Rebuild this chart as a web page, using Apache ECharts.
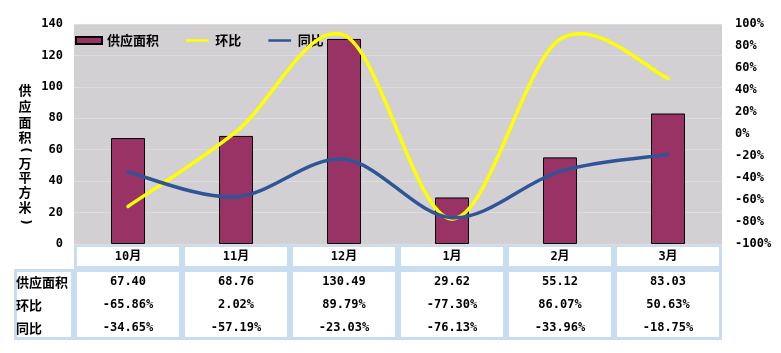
<!DOCTYPE html>
<html><head><meta charset="utf-8">
<script src="https://cdn.jsdelivr.net/npm/echarts@6/dist/echarts.min.js"></script>
<style>html,body{margin:0;padding:0;background:#fff}#c{width:781px;height:353px}</style>
</head><body><div id="c"></div>
<script>
const categories = ['10月','11月','12月','1月','2月','3月'];
const supplyArea = [67.40, 68.76, 130.49, 29.62, 55.12, 83.03];
const momChange = [-65.86, 2.02, 89.79, -77.30, 86.07, 50.63];
const yoyChange = [-34.65, -57.19, -23.03, -76.13, -33.96, -18.75];
const rowLabels = ['供应面积','环比','同比'];
const leftTicks = {min:0, max:140, interval:20};
const rightTicks = {min:-100, max:100, interval:20};
const yName = ['供','应','面','积','(','万','平','方','米',')'];

const FONT = "'DejaVu Sans Mono','Noto Sans CJK SC',monospace";
const CJK = "'Noto Sans CJK SC','DejaVu Sans',sans-serif";
const G = {left:74, right:59, top:24, bottom:109};
const W = 781, H = 353;
const plotW = W - G.left - G.right;
const colW = plotW / categories.length;
const plotBottom = H - G.bottom;
const headH = 25, bodyTop = plotBottom + 25, bodyH = 71;

const graphics = [];
const border = {stroke:'#c9ddf1', lineWidth:3};
categories.forEach((c,i)=>{
  graphics.push({type:'rect', shape:{x:G.left+i*colW+1.5, y:plotBottom+1.5, width:colW-3, height:headH-3}, style:Object.assign({fill:'#fff'}, border), z:0});
  graphics.push({type:'rect', shape:{x:G.left+i*colW+1.5, y:bodyTop+1.5, width:colW-3, height:bodyH-3}, style:Object.assign({fill:'#fff'}, border), z:0});
});
graphics.push({type:'rect', shape:{x:14+1.5, y:bodyTop+1.5, width:G.left-14-3, height:bodyH-3}, style:Object.assign({fill:'#fff'}, border), z:0});
rowLabels.forEach((t,i)=>{
  graphics.push({type:'text', x:16, y:bodyTop+13+i*23, style:{text:t, font:"bold 13px "+CJK, fill:'#000', verticalAlign:'middle'}, z:5});
});
// vertical axis title, parentheses turned to their vertical form
const nameY = [90,106,122,137,150,163,177,192,207,222];
yName.forEach((ch,i)=>{
  const paren = (ch==='(' || ch===')');
  graphics.push({type:'text', x:25, y:nameY[i], rotation: paren ? -Math.PI/2 : 0,
    style:{text:ch, font: paren ? "bold 12px 'DejaVu Sans'" : "bold 13px "+CJK, fill:'#000', align:'center', verticalAlign:'middle'}, z:5});
});

function rowAxis(vals, offset){
  return {type:'category', data:vals, position:'bottom', offset:offset, gridIndex:0,
    axisLine:{show:false}, axisTick:{show:false}, splitLine:{show:false},
    axisLabel:{margin:7, color:'#000', fontWeight:'bold', fontSize:12, fontFamily:FONT, interval:0}};
}

// Excel-like Catmull-Rom smoothing drawn through the axis scales
function smoothLine(name, vals, color){
  const n = vals.length;
  return {name:name, type:'custom', xAxisIndex:0, yAxisIndex:1, z:4, clip:false,
    data: vals.map((v,i)=>[i,v]), encode:{x:0, y:1},
    itemStyle:{color:color},
    renderItem:function(params, api){
      const i = params.dataIndex;
      if (i >= n-1) return null;
      const p = k => { const j = Math.max(0, Math.min(n-1, k)); return api.coord([j, vals[j]]); };
      const p0=p(i-1), p1=p(i), p2=p(i+1), p3=p(i+2);
      return {type:'bezierCurve', shape:{
        x1:p1[0], y1:p1[1], x2:p2[0], y2:p2[1],
        cpx1:p1[0]+(p2[0]-p0[0])/6, cpy1:p1[1]+(p2[1]-p0[1])/6,
        cpx2:p2[0]-(p3[0]-p1[0])/6, cpy2:p2[1]-(p3[1]-p1[1])/6},
        style:{stroke:color, lineWidth:3.5, fill:null, lineCap:'round'}};
    }};
}
const lineIcon = 'path://M0,0L26,0L26,0.01L0,0.01ZM0,2.5L26,2.5L26,5.5L0,5.5ZM0,8L26,8L26,8.01L0,8.01Z';

const option = {
  animation:false,
  grid:{left:G.left, right:G.right, top:G.top, bottom:G.bottom, show:true, backgroundColor:'#d2d0d2', borderWidth:0},
  legend:{left:75, top:34, padding:0, itemGap:27, itemWidth:26, itemHeight:7,
    textStyle:{color:'#000', fontWeight:'bold', fontSize:13, fontFamily:CJK},
    data:[{name:'供应面积', icon:'rect'},
          {name:'环比', icon:lineIcon, itemStyle:{color:'#ffff00', borderWidth:0}},
          {name:'同比', icon:lineIcon, itemStyle:{color:'#2f5597', borderWidth:0}}]},
  xAxis:[
    {type:'category', data:categories, axisLine:{show:false}, axisTick:{show:false},
     axisLabel:{margin:7, color:'#000', fontWeight:'bold', fontSize:12, fontFamily:FONT}},
    rowAxis(supplyArea.map(v=>v.toFixed(2)), 25),
    rowAxis(momChange.map(v=>v.toFixed(2)+'%'), 48),
    rowAxis(yoyChange.map(v=>v.toFixed(2)+'%'), 71)
  ],
  yAxis:[
    {type:'value', min:leftTicks.min, max:leftTicks.max, interval:leftTicks.interval,
     axisLine:{show:false}, axisTick:{show:false},
     splitLine:{lineStyle:{color:'#dedcde', width:1}},
     axisLabel:{margin:11, color:'#000', fontWeight:'bold', fontSize:12, fontFamily:FONT}},
    {type:'value', min:rightTicks.min, max:rightTicks.max, interval:rightTicks.interval,
     axisLine:{show:false}, axisTick:{show:false}, splitLine:{show:false},
     axisLabel:{margin:13, color:'#000', fontWeight:'bold', fontSize:12, fontFamily:FONT, formatter:'{value}%'}}
  ],
  series:[
    {name:'供应面积', type:'bar', data:supplyArea, barWidth:34, xAxisIndex:0, yAxisIndex:0,
     itemStyle:{color:'#993366', borderColor:'#000', borderWidth:1}},
    smoothLine('环比', momChange, '#ffff00'),
    smoothLine('同比', yoyChange, '#2f5597')
  ],
  graphic:graphics
};
const chart = echarts.init(document.getElementById('c'));
chart.setOption(option);
</script></body></html>
